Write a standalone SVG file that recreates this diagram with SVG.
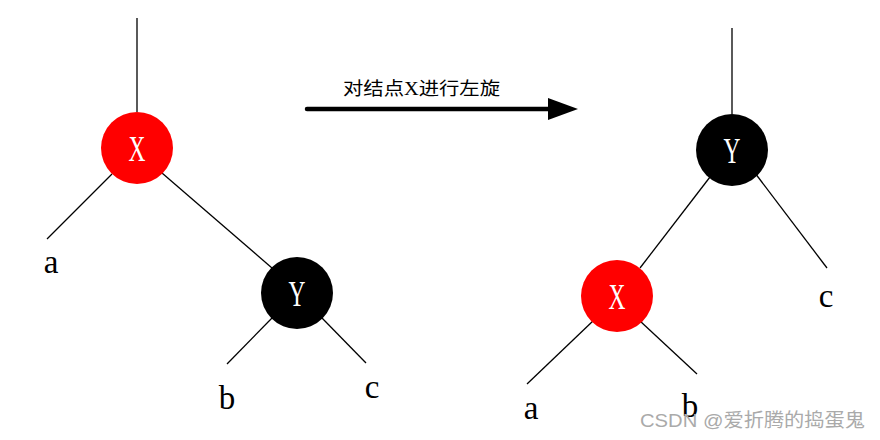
<svg xmlns="http://www.w3.org/2000/svg" width="880" height="440" viewBox="0 0 880 440">
<style>
.ln{stroke:#000;stroke-width:1.3;fill:none}
.red{fill:#ff0000}
.blk{fill:#000}
.nl{font-family:"Liberation Serif",serif;font-size:36px;fill:#fff;text-anchor:middle}
.lf{font-family:"Liberation Serif",serif;font-size:33px;fill:#000;text-anchor:middle}
.cap{font-family:"Liberation Serif","Noto Sans CJK SC",serif;font-size:18px;fill:#000}
.wm{font-family:"Liberation Sans","Noto Sans CJK SC",sans-serif;font-size:19px;fill:#aaa}
</style>
<g id="connectors">
<line class="ln" x1="137" y1="18" x2="137" y2="112"/>
<line class="ln" x1="112" y1="174" x2="47" y2="239"/>
<line class="ln" x1="162" y1="173" x2="272" y2="268"/>
<line class="ln" x1="272" y1="318" x2="227" y2="364"/>
<line class="ln" x1="322" y1="318" x2="366" y2="363"/>
<line x1="307" y1="109" x2="552" y2="109" stroke="#000" stroke-width="4.5" stroke-linecap="round"/>
<polygon points="548,98 578,109 548,120" fill="#000"/>
<line class="ln" x1="732" y1="28" x2="732" y2="114"/>
<line class="ln" x1="710" y1="177" x2="640" y2="268"/>
<line class="ln" x1="755" y1="173" x2="827" y2="268"/>
<line class="ln" x1="594" y1="320" x2="527" y2="384"/>
<line class="ln" x1="640" y1="321" x2="697" y2="374"/>
</g>
<g id="nodeX1"><circle class="red" cx="137" cy="148" r="36"/><text class="nl" transform="translate(137,161) scale(0.65,1)">X</text></g>
<g id="nodeY1"><circle class="blk" cx="297" cy="293" r="36"/><text class="nl" transform="translate(297,306) scale(0.65,1)">Y</text></g>
<g id="nodeY2"><circle class="blk" cx="732" cy="150" r="36"/><text class="nl" transform="translate(732,163) scale(0.65,1)">Y</text></g>
<g id="nodeX2"><circle class="red" cx="617" cy="296" r="36"/><text class="nl" transform="translate(617,309) scale(0.65,1)">X</text></g>
<g id="leaves">
<text class="lf" x="51" y="273">a</text>
<text class="lf" x="227" y="409">b</text>
<text class="lf" x="372" y="398">c</text>
<text class="lf" x="826" y="307">c</text>
<text class="lf" x="531" y="419">a</text>
<text class="lf" x="690" y="417">b</text>
</g>
<text class="cap" x="343" y="95" textLength="157" lengthAdjust="spacingAndGlyphs">对结点X进行左旋</text>
<text class="wm" x="640" y="427" textLength="225" lengthAdjust="spacingAndGlyphs">CSDN @爱折腾的捣蛋鬼</text>
</svg>
